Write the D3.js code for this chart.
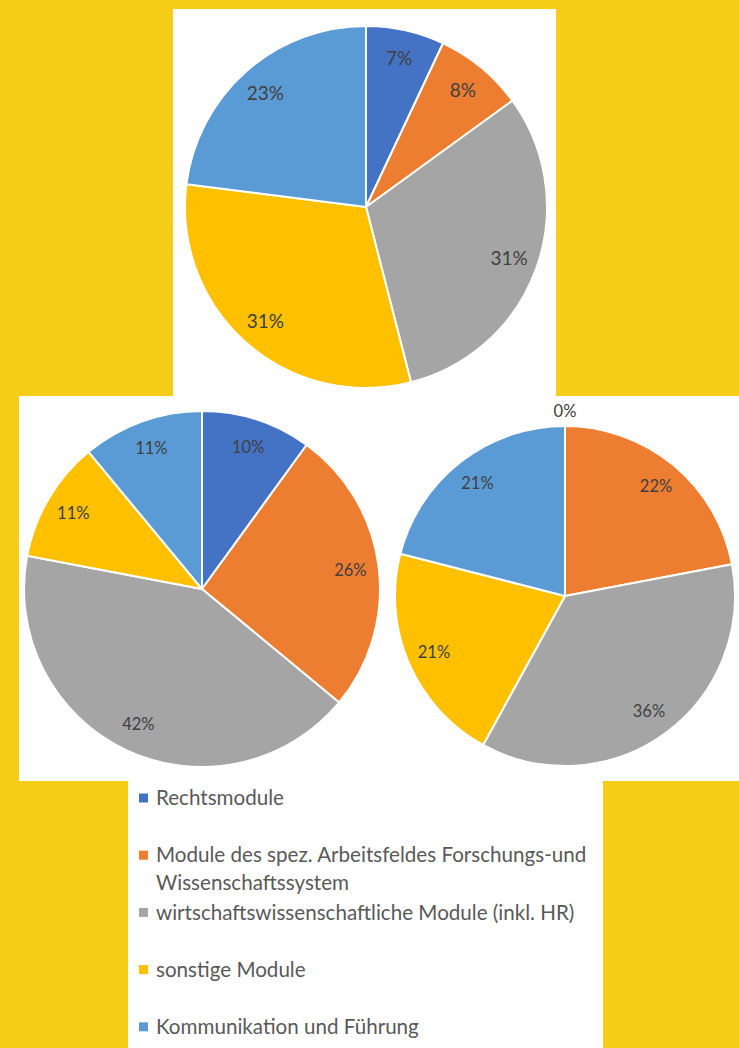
<!DOCTYPE html>
<html lang="de">
<head>
<meta charset="utf-8">
<title>Module – Verteilung</title>
<script src="https://cdnjs.cloudflare.com/ajax/libs/d3/7.8.5/d3.min.js"></script>
<style>
  body { margin: 0; background: #F6CE1A; }
  svg { display: block; }
  .lbl { font-family: Lato, "Open Sans", sans-serif; fill: #404040; }
  .legend text { font-family: Lato, "Open Sans", sans-serif; fill: #595959; font-size: 20.6px; }
</style>
</head>
<body>
<div id="chart"></div>
<script>
// categories (same order in all three pies, clockwise from 12 o'clock)
const categories = [
  "Rechtsmodule",
  "Module des spez. Arbeitsfeldes Forschungs-und Wissenschaftssystem",
  "wirtschaftswissenschaftliche Module (inkl. HR)",
  "sonstige Module",
  "Kommunikation und Führung"
];
// legend text as it wraps in the picture
const legendLines = [
  ["Rechtsmodule"],
  ["Module des spez. Arbeitsfeldes Forschungs-und", "Wissenschaftssystem"],
  ["wirtschaftswissenschaftliche Module (inkl. HR)"],
  ["sonstige Module"],
  ["Kommunikation und Führung"]
];
const colors = ["#4472C4", "#ED7D31", "#A5A5A5", "#FFC000", "#5B9BD5"];

// percentages per pie
const valuesTop   = [7, 8, 31, 31, 23];
const valuesLeft  = [10, 26, 42, 11, 11];
const valuesRight = [0, 22, 36, 21, 21];

const W = 739, H = 1048;

const svg = d3.select("#chart").append("svg")
  .attr("width", W)
  .attr("height", H);

svg.append("rect")
  .attr("width", W).attr("height", H)
  .attr("fill", "#F6CE1A");

// white panels behind the pies and the legend
const panels = [
  {x: 173, y: 9,   w: 383, h: 388},
  {x: 19,  y: 396, w: 720, h: 385},
  {x: 128, y: 780, w: 475, h: 268}
];
svg.selectAll("rect.panel")
  .data(panels)
  .enter()
  .append("rect")
  .attr("class", "panel")
  .attr("x", d => d.x).attr("y", d => d.y)
  .attr("width", d => d.w).attr("height", d => d.h)
  .attr("fill", "#fff");

const pie = d3.pie().sort(null).value(d => d);

function drawPie(values, cx, cy, r, fontSize) {
  const g = svg.append("g").attr("transform", "translate(" + cx + "," + cy + ")");
  const arcs = pie(values).map((a, i) => Object.assign(a, {idx: i}));
  const arc = d3.arc().innerRadius(0).outerRadius(r);
  const labelArc = d3.arc().innerRadius(r * 0.84).outerRadius(r * 0.84);

  g.selectAll("path")
    .data(arcs.filter(d => d.value > 0))
    .enter()
    .append("path")
    .attr("d", arc)
    .attr("fill", d => colors[d.idx])
    .attr("stroke", "#fff")
    .attr("stroke-width", 2)
    .attr("stroke-linejoin", "round");

  // 0% slice gets its label just outside the rim
  g.selectAll("text")
    .data(arcs)
    .enter()
    .append("text")
    .attr("class", "lbl")
    .attr("transform", d => {
      if (d.value === 0) return "translate(0," + (-(r + 15)) + ")";
      return "translate(" + labelArc.centroid(d) + ")";
    })
    .attr("text-anchor", "middle")
    .attr("dy", "0.35em")
    .style("font-size", fontSize + "px")
    .text(d => d.value + "%");
}

drawPie(valuesTop, 366, 207, 181, 19);
drawPie(valuesLeft, 202, 589, 178, 16.5);
drawPie(valuesRight, 565, 596, 170, 16.5);

// legend
const legend = svg.append("g").attr("class", "legend");
const item = legend.selectAll("g")
  .data(categories)
  .enter()
  .append("g")
  .attr("transform", (d, i) => "translate(139," + (798 + i * 57.2) + ")");

item.append("rect")
  .attr("x", 0).attr("y", -4.5)
  .attr("width", 9).attr("height", 9)
  .attr("fill", (d, i) => colors[i]);

item.append("text")
  .attr("x", 17)
  .selectAll("tspan")
  .data((d, i) => legendLines[i])
  .enter()
  .append("tspan")
  .attr("x", 17)
  .attr("y", (d, j) => j * 28)
  .attr("dy", "0.35em")
  .text(d => d);
</script>
</body>
</html>
